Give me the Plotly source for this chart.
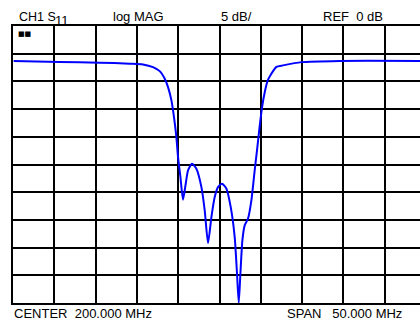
import plotly.graph_objects as go

# Display settings (read from the annotations)
center_mhz = 200.0
span_mhz = 50.0
ref_db = 0.0
scale_db = 5.0

# S11 trace
freq_mhz = [175.08, 180.65, 185.5, 189.13, 190.74, 191.95, 192.76, 193.37, 193.77,
            194.18, 194.49, 194.78, 194.98, 195.27, 195.58, 195.91, 196.19, 196.67,
            197.20, 197.81, 198.21, 198.61, 199.02, 199.42, 199.82, 200.30, 200.84,
            201.36, 201.84, 202.12, 202.33, 202.53, 202.77, 203.05, 203.45, 203.86,
            204.26, 204.54, 204.87, 205.17, 205.47, 205.84, 206.28, 206.89, 207.69,
            209.92, 214.55, 225.0]
s11_db = [-1.34, -1.48, -1.62, -1.80, -1.93, -2.42, -3.14, -4.51, -6.03,
          -8.43, -11.44, -15.05, -18.66, -22.27, -26.35, -23.47, -21.06, -19.86,
          -20.76, -24.08, -28.28, -34.19, -29.49, -25.88, -24.08, -23.47, -24.37,
          -27.69, -33.10, -39.71, -45.0, -39.71, -33.70, -30.99, -29.78, -26.48,
          -21.06, -17.45, -13.0, -9.5, -6.99, -4.82, -3.61, -2.38, -2.11,
          -1.52, -1.30, -1.30]

start = center_mhz - span_mhz / 2
x_visible_end = start + span_mhz * 407 / 413  # right side of the screen is cut off

fig = go.Figure()
fig.add_trace(go.Scatter(x=freq_mhz, y=s11_db, mode="lines",
                         line=dict(color="#0000ff", width=2, shape="spline", smoothing=0.6),
                         hoverinfo="skip", showlegend=False))

F = "Liberation Sans, Arial, sans-serif"
fs = 13
def ann(text, xpx, top=True, size=fs, yshift=0):
    fig.add_annotation(text=text, xref="paper", yref="paper",
                       x=(xpx - 13) / 407, y=1 if top else 0,
                       xanchor="left", yanchor="bottom" if top else "top",
                       yshift=yshift, showarrow=False,
                       font=dict(family=F, size=size, color="black"))

ann("CH1\u00a0S", 17, size=12.5)
ann("11", 53, yshift=-4)
ann("log\u00a0MAG", 111)
ann("5\u00a0dB/", 219)
ann("REF\u00a0\u00a00\u00a0dB", 321)
ann("CENTER\u00a0\u00a0200.000\u00a0MHz", 12, top=False, yshift=-1)
ann("SPAN\u00a0\u00a0\u00a050.000\u00a0MHz", 285, top=False, yshift=-1)

# small status glyph at top-left inside the grid
fig.add_annotation(text="■■", xref="paper", yref="paper", x=0, y=1,
                   xanchor="left", yanchor="top", xshift=3, yshift=-2,
                   showarrow=False, font=dict(family="DejaVu Sans", size=7, color="black"))

# reference level marker
fig.add_shape(type="path", xref="x", yref="y", xsizemode="pixel", ysizemode="pixel",
              xanchor=start, yanchor=ref_db, path="M -7 3 L -1 0 L -7 -3 Z",
              fillcolor="black", line=dict(color="black", width=1))

axis_common = dict(showticklabels=False, ticks="", zeroline=False,
                   showgrid=True, gridcolor="black", gridwidth=2,
                   showline=True, linecolor="black", linewidth=2)
fig.update_xaxes(range=[start, x_visible_end], tick0=start, dtick=span_mhz / 10,
                 mirror=True, **axis_common)
fig.update_yaxes(range=[ref_db - 9 * scale_db, ref_db + scale_db], tick0=ref_db,
                 dtick=scale_db, mirror=False, **axis_common)

fig.update_layout(width=420, height=322, margin=dict(l=13, r=0, t=26, b=19),
                  plot_bgcolor="white", paper_bgcolor="white")

fig.write_html("out.html", config={"displayModeBar": False},
               post_script="document.body.style.margin='0';document.body.style.overflow='hidden';")
